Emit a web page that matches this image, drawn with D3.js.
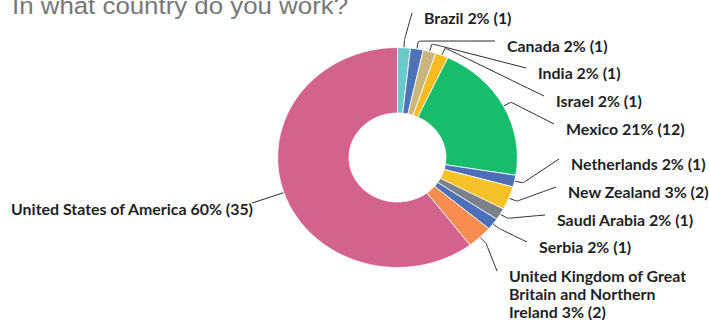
<!DOCTYPE html>
<html>
<head>
<meta charset="utf-8">
<script src="https://cdn.jsdelivr.net/npm/d3@7"></script>
<style>
  html, body { margin: 0; padding: 0; background: #fff; }
  svg { display: block; }
</style>
</head>
<body>
<svg id="chart" width="709" height="320"></svg>
<script>
// Survey answers: "In what country do you work?"
const countries = [
  "Brazil", "Canada", "India", "Israel", "Mexico", "Netherlands",
  "New Zealand", "Saudi Arabia", "Serbia",
  "United Kingdom of Great Britain and Northern Ireland",
  "United States of America"
];
const responses = [1, 1, 1, 1, 12, 1, 2, 1, 1, 2, 35];
const sliceColors = [
  "#6cc9cb", "#4d72b8", "#c9b67c", "#f6bc1f", "#16bd6c", "#4b6fb9",
  "#f7c128", "#7b8189", "#4a71b9", "#f98c50", "#d3628f"
];

// Label anchors (screen px): text start x (end x on the left side), first line centre y
const labelAnchors = [
  {x: 424, y: 18, side: "right"},
  {x: 507, y: 46, side: "right"},
  {x: 538, y: 73, side: "right"},
  {x: 556, y: 101, side: "right"},
  {x: 566, y: 129, side: "right"},
  {x: 571, y: 164, side: "right"},
  {x: 568, y: 192, side: "right"},
  {x: 557, y: 220, side: "right"},
  {x: 539, y: 247, side: "right"},
  {x: 509, y: 276, side: "right"},
  {x: 253, y: 209, side: "left"}
];

const svg = d3.select("#chart");
const cx = 397.5, cy = 157.5;
const R = 110, r = 44.5;
const sx = 1.09;          // horizontal stretch of the drawing
const labelFont = "Lato, 'Open Sans', sans-serif";

const total = d3.sum(responses);
const data = countries.map((name, i) => ({
  name, count: responses[i], color: sliceColors[i],
  pct: Math.round(responses[i] / total * 100), anchor: labelAnchors[i]
}));

// Title
svg.append("text")
  .attr("transform", `translate(12,14) scale(1.1,1)`)
  .attr("font-family", "'Liberation Sans', Arial, sans-serif")
  .attr("font-size", 23.5)
  .attr("fill", "#777")
  .text("In what country do you work?");

// Donut
const pie = d3.pie().sort(null).value(d => d.count).startAngle(0).endAngle(2 * Math.PI);
const arcs = pie(data);
const arc = d3.arc().innerRadius(r).outerRadius(R);

svg.append("g")
  .attr("transform", `translate(${cx},${cy}) scale(${sx},1)`)
  .selectAll("path")
  .data(arcs)
  .join("path")
  .attr("d", arc)
  .attr("fill", d => d.data.color)
  .attr("stroke", "#fff")
  .attr("stroke-width", 0.8)
  .attr("vector-effect", "non-scaling-stroke");

// Leader lines
const pt = (a, rad) => [cx + sx * rad * Math.sin(a), cy - rad * Math.cos(a)];
const line = d3.line().curve(d3.curveBasis);
const labelG = svg.append("g");

arcs.forEach(d => {
  const a = (d.startAngle + d.endAngle) / 2;
  const an = d.data.anchor;
  const start = pt(a, R + 0.5);
  let pts;
  if (an.side === "right") {
    const elbow = pt(a, R + 8);
    pts = [start, elbow, elbow, [an.x - 12, an.y - 5]];
  } else {
    pts = [start, [an.x - 1, an.y - 6]];
  }
  labelG.append("path")
    .attr("d", line(pts))
    .attr("fill", "none")
    .attr("stroke", "#2b2b2b")
    .attr("stroke-width", 1);
});

// Labels
data.forEach(d => {
  const an = d.anchor;
  const full = `${d.name} ${d.pct}% (${d.count})`;
  const t = labelG.append("text")
    .attr("transform", `translate(${an.x},${an.y}) scale(${sx},1)`)
    .attr("font-family", labelFont)
    .attr("font-weight", 700)
    .attr("font-size", 14.6)
    .attr("fill", "#1f1f1f")
    .attr("dominant-baseline", "central")
    .attr("text-anchor", an.side === "left" ? "end" : "start");
  // wrap long labels on the right-hand side
  const maxW = an.side === "right" ? 192 / sx : Infinity;
  const words = full.split(" ");
  let lineWords = [];
  let lineNo = 0;
  let tspan = t.append("tspan").attr("x", 0).attr("y", 0);
  words.forEach(w => {
    lineWords.push(w);
    tspan.text(lineWords.join(" "));
    if (tspan.node().getComputedTextLength() > maxW && lineWords.length > 1) {
      lineWords.pop();
      tspan.text(lineWords.join(" "));
      lineWords = [w];
      lineNo++;
      tspan = t.append("tspan").attr("x", 0).attr("y", lineNo * 18).text(w);
    }
  });
});
</script>
</body>
</html>
